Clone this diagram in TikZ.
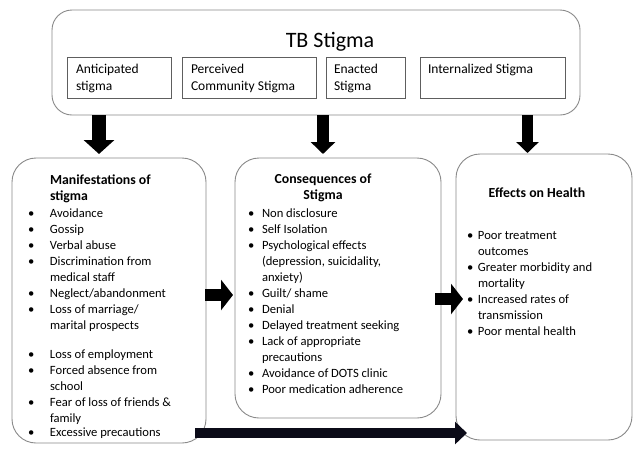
\documentclass[tikz,border=0pt]{standalone}
\usepackage{fontspec}
\setmainfont{Carlito}
\usetikzlibrary{arrows.meta}
\definecolor{boxgray}{HTML}{8A8A8A}
\definecolor{subgray}{HTML}{5E5E5E}
\definecolor{arrowdark}{HTML}{0B0B18}
\begin{document}
\begin{tikzpicture}[x=1pt,y=-1pt,
  rbox/.style={draw=boxgray, line width=0.9pt, rounded corners=24pt, anchor=north west, inner sep=0pt, outer sep=0pt},
  sbox/.style={draw=subgray, line width=0.8pt, anchor=north west, inner sep=0pt, outer sep=0pt, minimum height=41pt},
  txt/.style={anchor=base west, inner sep=0pt, outer sep=0pt},
  subtxt/.style={txt, font=\fontsize{13.5}{17}\selectfont},
  listtxt/.style={txt, font=\fontsize{12.6}{16}\selectfont},
  ttl/.style={inner sep=0pt, outer sep=0pt, font=\fontsize{13.8}{16}\selectfont\bfseries},
  barrow/.style={draw=black, line width=12pt, -{Triangle[length=12pt,width=30pt]}},
  varrowA/.style={draw=black, line width=14pt, -{Triangle[length=14pt,width=30pt]}},
  varrowB/.style={draw=black, line width=12pt, -{Triangle[length=12pt,width=24pt]}},
  varrowC/.style={draw=black, line width=11pt, -{Triangle[length=11pt,width=22pt]}},
  larrow/.style={draw=arrowdark, line width=10pt, -{Triangle[length=12pt,width=22pt]}}
]
\useasboundingbox (0,0) rectangle (640,456);
\fill[white] (0,0) rectangle (640,456);

% top box
\node[rbox, minimum width=528pt, minimum height=105pt, rounded corners=20pt] (top) at (52,10) {};
\node[anchor=base, inner sep=0pt, font=\fontsize{22}{26}\selectfont] (ttitle) at (330,47) {TB Stigma};

\node[sbox, minimum width=104pt] (s1) at (67,57) {};
\node[sbox, minimum width=134pt] (s2) at (182,57) {};
\node[sbox, minimum width=79pt] (s3) at (326,57) {};
\node[sbox, minimum width=145pt] (s4) at (420,57) {};

\node[subtxt] (t1) at (76,73) {\begin{tabular}[t]{@{}l@{}}Anticipated\\stigma\end{tabular}};
\node[subtxt] (t2) at (191,73) {\begin{tabular}[t]{@{}l@{}}Perceived\\Community Stigma\end{tabular}};
\node[subtxt] (t3) at (334,73) {\begin{tabular}[t]{@{}l@{}}Enacted\\Stigma\end{tabular}};
\node[subtxt] (t4) at (428,73) {\begin{tabular}[t]{@{}l@{}}Internalized Stigma\end{tabular}};

% lower boxes
\node[rbox, minimum width=194pt, minimum height=285pt] (left) at (12,158) {};
\node[rbox, minimum width=206pt, minimum height=260pt] (mid) at (235,158) {};
\node[rbox, minimum width=176pt, minimum height=286pt] (right) at (456,154) {};

% titles
\node[ttl, anchor=base west] (lt) at (50,184) {\begin{tabular}[t]{@{}l@{}}Manifestations of\\stigma\end{tabular}};
\node[ttl, anchor=base] (mt) at (323,183) {\begin{tabular}[t]{@{}c@{}}Consequences of\\Stigma\end{tabular}};
\node[ttl, anchor=base] (rt) at (537,197) {Effects on Health};

% lists
\node[listtxt] (ll) at (28,217) {\begin{tabular}[t]{@{}p{22pt}@{}l@{}}
\textbullet & Avoidance\\
\textbullet & Gossip\\
\textbullet & Verbal abuse\\
\textbullet & Discrimination from\\
 & medical staff\\
\textbullet & Neglect/abandonment\\
\textbullet & Loss of marriage/\\
 & marital prospects\\[13pt]
\textbullet & Loss of employment\\
\textbullet & Forced absence from\\
 & school\\
\textbullet & Fear of loss of friends \&\\
 & family\\[-2pt]
\textbullet & Excessive precautions
\end{tabular}};

\node[listtxt] (ml) at (248,217) {\begin{tabular}[t]{@{}p{14pt}@{}l@{}}
\textbullet & Non disclosure\\
\textbullet & Self Isolation\\
\textbullet & Psychological effects\\
 & (depression, suicidality,\\
 & anxiety)\\
\textbullet & Guilt/ shame\\
\textbullet & Denial\\
\textbullet & Delayed treatment seeking\\
\textbullet & Lack of appropriate\\
 & precautions\\
\textbullet & Avoidance of DOTS clinic\\
\textbullet & Poor medication adherence
\end{tabular}};

\node[listtxt] (rl) at (467,239) {\begin{tabular}[t]{@{}p{11pt}@{}l@{}}
\textbullet & Poor treatment\\
 & outcomes\\
\textbullet & Greater morbidity and\\
 & mortality\\
\textbullet & Increased rates of\\
 & transmission\\
\textbullet & Poor mental health
\end{tabular}};

% arrows
\coordinate (x1) at (99,0);
\coordinate (x2) at (323,0);
\coordinate (x3) at (527.5,0);
\coordinate (y1) at (0,295);
\coordinate (y2) at (0,299);
\coordinate (y3) at (0,433);
\draw[varrowA] (top.south -| x1) -- ([yshift=4pt]left.north -| x1);
\draw[varrowB] (top.south -| x2) -- ([yshift=4pt]mid.north -| x2);
\draw[varrowC] (top.south -| x3) -- ([yshift=1pt]right.north -| x3);
\draw[barrow] ([xshift=-1pt]left.east |- y1) -- ([xshift=-2pt]mid.west |- y1);
\draw[barrow] ([xshift=-6pt]mid.east |- y2) -- ([xshift=7pt]right.west |- y2);
\draw[larrow] ([xshift=-11pt]left.east |- y3) -- ([xshift=11pt]right.west |- y3);
\end{tikzpicture}
\end{document}
